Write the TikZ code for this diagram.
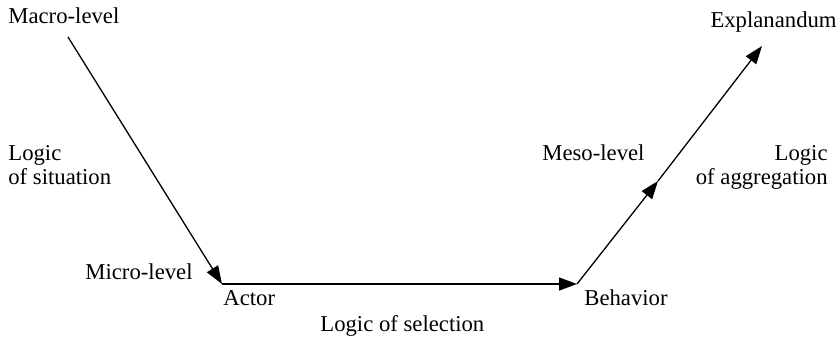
\documentclass[tikz,border=0pt]{standalone}
\usepackage{fontspec}
\setmainfont{Liberation Serif}
\usepackage{tikz}
\usetikzlibrary{arrows.meta,positioning}
\tikzset{
  lbl/.style={inner sep=0pt,font=\fontsize{11.35bp}{12bp}\selectfont},
  flow/.style={line width=0.65bp,-{Triangle[length=9bp,width=6.5bp]}}
}

\begin{document}
\begin{tikzpicture}[x=0.5bp,y=-0.5bp]
  \useasboundingbox (0,0) rectangle (840,337);

  % Corner points of the path
  \coordinate (top) at (68,37);
  \coordinate (act) at (222,284);
  \coordinate (beh) at (577,284);
  \coordinate (mid) at (658,181);
  \coordinate (end) at (762,46);

  % Level labels
  \node[lbl,anchor=base west] (macro) at (8,23) {Macro-level};
  \node[lbl,anchor=base west] (micro) at (85,279) {Micro-level};
  \node[lbl,anchor=base west] (meso) at (542,160) {Meso-level};
  \node[lbl,anchor=base east] (expl) at (837,27) {Explanandum};

  % Actor and behavior
  \node[lbl,anchor=base west] (actor) at (223,305) {Actor};
  \node[lbl,anchor=base west] (behav) at (584,305) {Behavior};

  % The three logics
  \node[lbl,anchor=base west,align=left] (sitlogic) at (8,184) {Logic\\of situation};
  \node[lbl,anchor=base east,align=right] (aggrlogic) at (828,184) {Logic\\of aggregation};
  \node[lbl,anchor=base west] (sellogic) at (320,331) {Logic of selection};

  % Arrows
  \draw[flow] (top) -- (act);
  \draw[flow] (act) -- (beh);
  \draw[flow] (beh) -- (mid);
  \draw[flow] (mid) -- (end);
\end{tikzpicture}
\end{document}
